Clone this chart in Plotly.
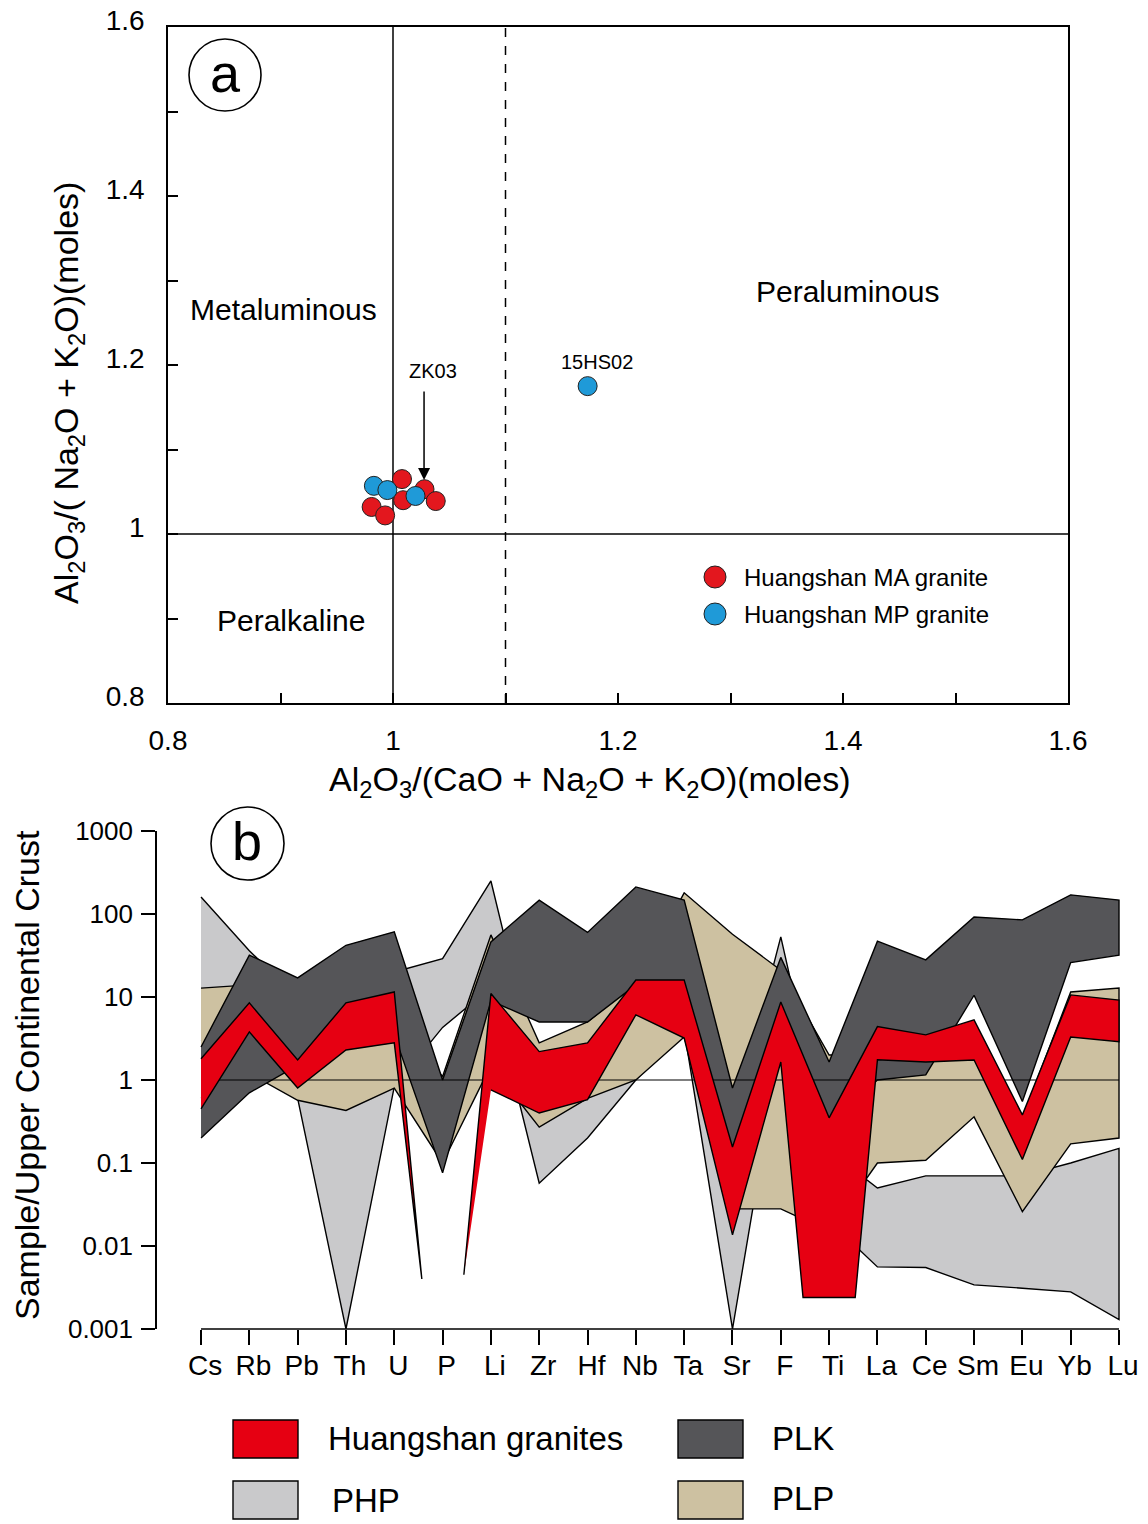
import plotly.graph_objects as go

W, H = 1148, 1524
FONT = "Liberation Sans, Arial, sans-serif"

# ---------------- Panel a data ----------------
ma_x = [1.008, 1.009, 0.981, 0.993, 1.028, 1.038]
ma_y = [1.065, 1.040, 1.032, 1.022, 1.053, 1.039]
mp_x = [0.983, 0.995, 1.020, 1.173]
mp_y = [1.057, 1.052, 1.045, 1.175]
a_ticks = [0.8, 1.0, 1.2, 1.4, 1.6]
a_ticktext = ["0.8", "1", "1.2", "1.4", "1.6"]
a_minor = [0.9, 1.1, 1.3, 1.5]

# ---------------- Panel b data ----------------
elements = ["Cs", "Rb", "Pb", "Th", "U", "P", "Li", "Zr", "Hf", "Nb",
            "Ta", "Sr", "F", "Ti", "La", "Ce", "Sm", "Eu", "Yb", "Lu"]
php_upper = [160, 36, 10, 20, 20, 29, 250, 1.0, 1.0, 3, 10, 0.3, 53, 0.14,
             0.05, 0.07, 0.07, 0.07, 0.1, 0.15]
php_lower = [3, 2, 0.6, 0.001, 0.83, 4.3, 13, 0.057, 0.2, 1.0, 4, 0.001, 2.8,
             0.02, 0.0056, 0.0055, 0.0034, 0.0031, 0.0028, 0.0013]
plp_upper = [12.8, 14, 5, 5, 6, 1.1, 56, 2.8, 5, 15, 180, 57, 21, 2.0,
             2, 2, 5, 0.35, 11.5, 12.8]
plp_lower = [0.6, 1.2, 0.57, 0.43, 0.8, 0.1, 1.5, 0.27, 0.6, 1.0, 3.3, 0.028,
             0.028, 0.015, 0.1, 0.108, 0.36, 0.026, 0.17, 0.2]
plk_upper = [2.5, 32, 17, 42, 61, 1.0, 46, 147, 60, 212, 147, 0.8, 30, 1.65,
             47, 28, 92, 85, 170, 147]
plk_lower = [0.2, 0.7, 1.5, 4, 3.5, 0.076, 9, 5, 5, 14, 10, 0.1, 3, 0.3,
             1.0, 1.15, 10.5, 0.55, 26, 32]
hs_upper = [1.8, 8.5, 1.74, 8.5, 11.5, None, 11, 2.2, 2.8, 16, 16, 0.156, 8.7,
            0.35, 4.4, 3.5, 5.3, 0.38, 10.6, 9.2]
hs_lower = [0.45, 3.8, 0.8, 2.3, 2.8, None, 0.76, 0.4, 0.58, 6.1, 3.2, 0.0136,
            1.65, None, 1.75, 1.65, 1.74, 0.11, 3.3, 2.9]
hs_spike_x = [4.57, 5.44]          # ends of the two P-spikes
hs_spike_y = [0.004, 0.0045]
hs_ti_floor_x = [12.46, 13.54]     # flat floor of the Ti trough
hs_ti_floor_y = [0.0024, 0.0024]
b_ticks = [0.001, 0.01, 0.1, 1, 10, 100, 1000]
b_ticktext = ["0.001", "0.01", "0.1", "1", "10", "100", "1000"]

C_RED = "#e60012"
C_PLK = "#555558"
C_PHP = "#c9c9cb"
C_PLP = "#cdc1a1"


def px(x):
    return x / W


def py(y):
    return 1 - y / H


fig = go.Figure()


def envelope(xs, up, lo, color, name, xaxis="x2", yaxis="y2"):
    xx = list(xs) + list(xs)[::-1]
    yy = list(up) + list(lo)[::-1]
    fig.add_trace(go.Scatter(x=xx, y=yy, mode="lines", fill="toself",
                             fillcolor=color, line=dict(color="black", width=1.4),
                             name=name, showlegend=False, hoverinfo="skip",
                             xaxis=xaxis, yaxis=yaxis))


idx = list(range(len(elements)))
envelope(idx, php_upper, php_lower, C_PHP, "PHP")
envelope(idx, plp_upper, plp_lower, C_PLP, "PLP")
envelope(idx, plk_upper, plk_lower, C_PLK, "PLK")

# reference line at 1
fig.add_trace(go.Scatter(x=[0, len(elements) - 1], y=[1, 1], mode="lines",
                         line=dict(color="black", width=1.2), showlegend=False,
                         hoverinfo="skip", xaxis="x2", yaxis="y2"))

# Huangshan granites: two pieces (P missing)
p_i = elements.index("P")
ti_i = elements.index("Ti")
xl = idx[:p_i] + [hs_spike_x[0]] + idx[:p_i][::-1]
yl = hs_upper[:p_i] + [hs_spike_y[0]] + hs_lower[:p_i][::-1]
fig.add_trace(go.Scatter(x=xl, y=yl, mode="lines", fill="toself", fillcolor=C_RED,
                         line=dict(color="black", width=1.4), showlegend=False,
                         hoverinfo="skip", xaxis="x2", yaxis="y2"))
up_x = [hs_spike_x[1]] + idx[p_i + 1:]
up_y = [hs_spike_y[1]] + hs_upper[p_i + 1:]
lo_x, lo_y = [], []
for i in idx[p_i + 1:]:
    if i == ti_i:
        lo_x += hs_ti_floor_x
        lo_y += hs_ti_floor_y
    else:
        lo_x.append(i)
        lo_y.append(hs_lower[i])
xr = up_x + lo_x[::-1]
yr = up_y + lo_y[::-1]
fig.add_trace(go.Scatter(x=xr, y=yr, mode="lines", fill="toself", fillcolor=C_RED,
                         line=dict(color="black", width=1.4), showlegend=False,
                         hoverinfo="skip", xaxis="x2", yaxis="y2"))

# ---------------- Panel a traces ----------------
fig.add_trace(go.Scatter(x=ma_x, y=ma_y, mode="markers",
                         marker=dict(size=19, color="#e3171e",
                                     line=dict(color="#222", width=1)),
                         showlegend=False, xaxis="x", yaxis="y"))
fig.add_trace(go.Scatter(x=mp_x, y=mp_y, mode="markers",
                         marker=dict(size=19, color="#1f9ad8",
                                     line=dict(color="#222", width=1)),
                         showlegend=False, xaxis="x", yaxis="y"))

shapes = []
shapes.append(dict(type="line", xref="x", yref="y", x0=1.0, x1=1.0, y0=0.8, y1=1.6,
                   line=dict(color="black", width=1.5), layer="below"))
shapes.append(dict(type="line", xref="x", yref="y", x0=1.1, x1=1.1, y0=0.8, y1=1.6,
                   line=dict(color="black", width=1.5, dash="dash"), layer="below"))
shapes.append(dict(type="line", xref="x", yref="y", x0=0.8, x1=1.6, y0=1.0, y1=1.0,
                   line=dict(color="black", width=1.5), layer="below"))
shapes.append(dict(type="line", xref="x2", yref="y2 domain", x0=0, x1=len(elements) - 1,
                   y0=0, y1=0, line=dict(color="black", width=1.6)))
shapes.append(dict(type="circle", xref="paper", yref="paper",
                   x0=px(189), x1=px(261), y0=py(111), y1=py(39),
                   line=dict(color="black", width=1.6)))
shapes.append(dict(type="circle", xref="paper", yref="paper",
                   x0=px(211), x1=px(284), y0=py(880), y1=py(807),
                   line=dict(color="black", width=1.6)))
for yy, col in [(577, "#e3171e"), (614, "#1f9ad8")]:
    shapes.append(dict(type="circle", xref="paper", yref="paper",
                       xsizemode="pixel", ysizemode="pixel",
                       xanchor=px(715), yanchor=py(yy), x0=-11, x1=11, y0=-11, y1=11,
                       fillcolor=col, line=dict(color="#222", width=1)))
for (x0, y0, col) in [(233, 1420, C_RED), (678, 1420, C_PLK),
                      (233, 1481, C_PHP), (678, 1481, C_PLP)]:
    shapes.append(dict(type="rect", xref="paper", yref="paper",
                       x0=px(x0), x1=px(x0 + 65), y0=py(y0 + 38), y1=py(y0),
                       fillcolor=col, line=dict(color="black", width=1.4)))

ann = []


def text(x, y, s, size, xanchor="center", angle=0, **kw):
    ann.append(dict(x=px(x), y=py(y), xref="paper", yref="paper", text=s,
                    showarrow=False, xanchor=xanchor, yanchor="middle",
                    textangle=angle, font=dict(family=FONT, size=size, color="black"), **kw))


text(225, 73, "a", 54)
text(247, 841, "b", 54)
text(283, 310, "Metaluminous", 30)
text(847, 292, "Peraluminous", 30)
text(291, 620, "Peralkaline", 30)
text(433, 371, "ZK03", 20)
text(597, 362, "15HS02", 20)
text(742, 578, "Huangshan MA granite", 24, xanchor="left")
text(742, 615, "Huangshan MP granite", 24, xanchor="left")
text(590, 781, "Al<sub>2</sub>O<sub>3</sub>/(CaO + Na<sub>2</sub>O + K<sub>2</sub>O)(moles)", 34)
text(68, 393, "Al<sub>2</sub>O<sub>3</sub>/( Na<sub>2</sub>O + K<sub>2</sub>O)(moles)", 34, angle=-90)
text(27, 1075, "Sample/Upper Continental Crust", 34, angle=-90)
text(326, 1438, "Huangshan granites", 33, xanchor="left")
text(770, 1438, "PLK", 33, xanchor="left")
text(330, 1500, "PHP", 33, xanchor="left")
text(770, 1498, "PLP", 33, xanchor="left")
ann.append(dict(x=1.0276, y=1.064, xref="x", yref="y", text="", showarrow=True,
                ax=0, ay=-90, arrowhead=2, arrowsize=1.6, arrowwidth=1.5,
                arrowcolor="black"))

axis_common = dict(showgrid=False, zeroline=False, color="black", automargin=False,
                   tickfont=dict(family=FONT, size=28, color="black"))

fig.update_layout(
    width=W, height=H, margin=dict(l=0, r=0, t=0, b=0, autoexpand=False),
    paper_bgcolor="white", plot_bgcolor="rgba(0,0,0,0)",
    showlegend=False, shapes=shapes, annotations=ann,
    xaxis=dict(domain=[px(168), px(1068)], range=[0.8, 1.6], anchor="y",
               tickmode="array", tickvals=a_ticks, ticktext=a_ticktext,
               ticks="inside", ticklen=10, tickwidth=1.5, tickcolor="black",
               minor=dict(tickmode="array", tickvals=a_minor, ticks="inside",
                          ticklen=10, tickwidth=1.5, tickcolor="black"),
               showline=True, linecolor="black", linewidth=1.6, mirror=True,
               ticklabelstandoff=12, **axis_common),
    yaxis=dict(domain=[py(703), py(27)], range=[0.8, 1.6], anchor="x",
               tickmode="array", tickvals=a_ticks, ticktext=a_ticktext,
               ticks="inside", ticklen=10, tickwidth=1.5, tickcolor="black",
               minor=dict(tickmode="array", tickvals=a_minor, ticks="inside",
                          ticklen=10, tickwidth=1.5, tickcolor="black"),
               showline=True, linecolor="black", linewidth=1.6, mirror=True,
               ticklabelstandoff=16, ticklabelshift=-7, **axis_common),
    xaxis2=dict(domain=[px(157), px(1125)], range=[-0.911, 19.124], anchor="y2",
                tickmode="array", tickvals=idx, ticktext=elements,
                ticks="outside", ticklen=15, tickwidth=1.5, tickcolor="black",
                showline=False, ticklabelstandoff=-4, ticklabelshift=4,
                **axis_common),
    yaxis2=dict(domain=[py(1329), py(831)], type="log", range=[-3, 3], anchor="x2",
                tickmode="array", tickvals=b_ticks, ticktext=b_ticktext,
                ticks="outside", ticklen=14, tickwidth=1.5, tickcolor="black",
                showline=True, linecolor="black", linewidth=1.6,
                ticklabelstandoff=3, automargin=False,
                showgrid=False, zeroline=False, color="black",
                tickfont=dict(family=FONT, size=26, color="black")),
)

fig.write_html("out.html")
